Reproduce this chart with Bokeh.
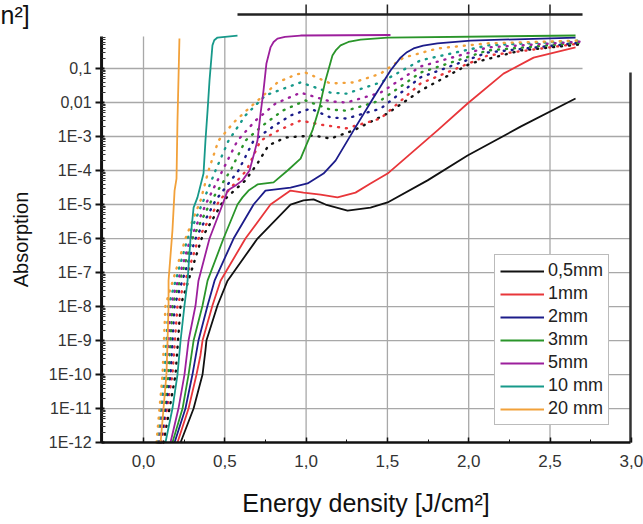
import numpy as np
from bokeh.plotting import figure
from bokeh.models import (Range1d, FixedTicker, Label, Legend, LegendItem, CustomJSTickFormatter)
from bokeh.embed import file_html
from bokeh.resources import INLINE

FONT = "Liberation Sans"

# ---------------- data ----------------
x_ticks = [0.0, 0.5, 1.0, 1.5, 2.0, 2.5, 3.0]
x_tick_labels = ["0,0", "0,5", "1,0", "1,5", "2,0", "2,5", "3,0"]
y_ticks = [1e-12, 1e-11, 1e-10, 1e-9, 1e-8, 1e-7, 1e-6, 1e-5, 1e-4, 1e-3, 1e-2, 1e-1, 1.0]
y_tick_labels = ["1E-12", "1E-11", "1E-10", "1E-9", "1E-8", "1E-7", "1E-6", "1E-5",
                 "1E-4", "1E-3", "0,01", "0,1", "1"]

series_labels = ["0,5mm", "1mm", "2mm", "3mm", "5mm", "10 mm", "20 mm"]
series_colors = ["#111111", "#e8363a", "#1c1c8a", "#2a952a", "#9c1f9c", "#17998a", "#f2a13a"]

# solid curves: energy density [J/cm2] and log10(absorption)
e_05 = [0.228, 0.308, 0.363, 0.381, 0.387, 0.455, 0.517, 0.701, 0.904, 0.984, 1.046, 1.120,
        1.255, 1.396, 1.501, 1.747, 1.993, 2.319, 2.657]
a_05 = [-12.0, -11.0, -10.0, -9.29, -9.0, -7.97, -7.24, -6.0, -5.0, -4.88, -4.85, -5.0,
        -5.18, -5.09, -4.94, -4.29, -3.56, -2.71, -1.88]

e_1 = [0.209, 0.277, 0.326, 0.350, 0.363, 0.424, 0.474, 0.627, 0.781, 0.904, 0.984, 1.089,
       1.193, 1.304, 1.396, 1.501, 1.808, 1.993, 2.214, 2.399, 2.657]
a_1 = [-12.0, -11.0, -10.0, -9.44, -9.0, -7.97, -7.24, -6.0, -5.0, -4.59, -4.65, -4.71,
       -4.79, -4.65, -4.38, -4.09, -2.82, -2.03, -1.15, -0.68, -0.38]

e_2 = [0.191, 0.258, 0.301, 0.338, 0.394, 0.437, 0.554, 0.677, 0.750, 0.904, 1.009, 1.107,
       1.181, 1.292, 1.415, 1.519, 1.581, 1.620, 1.661, 1.720, 1.808, 2.011, 2.657]
a_2 = [-12.0, -11.0, -10.0, -9.0, -7.97, -7.24, -6.0, -5.0, -4.59, -4.5, -4.38, -4.09,
       -3.71, -2.82, -1.85, -1.06, -0.68, -0.52, -0.41, -0.33, -0.26, -0.18, -0.09]

e_3 = [0.178, 0.240, 0.277, 0.308, 0.363, 0.394, 0.492, 0.578, 0.609, 0.646, 0.701, 0.800,
       0.886, 0.966, 1.039, 1.082, 1.119, 1.162, 1.185, 1.212, 1.260, 1.335, 1.501, 2.657]
a_3 = [-12.0, -11.0, -10.0, -9.0, -7.97, -7.24, -6.0, -5.0, -4.79, -4.59, -4.41, -4.35,
       -4.0, -3.65, -2.82, -2.15, -1.35, -0.62, -0.45, -0.32, -0.22, -0.15, -0.09, -0.03]

e_5 = [0.166, 0.215, 0.252, 0.277, 0.320, 0.338, 0.406, 0.486, 0.517, 0.566, 0.609, 0.652,
       0.677, 0.701, 0.720, 0.738, 0.756, 0.781, 0.800, 0.824, 0.870, 0.966, 1.519]
a_5 = [-12.0, -11.0, -10.0, -9.0, -7.97, -7.24, -6.0, -5.0, -4.59, -4.44, -4.29, -4.0,
       -3.56, -3.12, -2.32, -1.65, -0.85, -0.38, -0.22, -0.12, -0.07, -0.03, -0.015]

e_10 = [0.135, 0.178, 0.209, 0.228, 0.252, 0.271, 0.289, 0.308, 0.332, 0.369, 0.381, 0.394,
        0.406, 0.424, 0.435, 0.455, 0.578]
a_10 = [-12.0, -11.0, -10.0, -9.0, -7.97, -7.24, -6.0, -5.09, -4.79, -4.09, -3.12, -2.24,
        -1.35, -0.32, -0.17, -0.09, -0.03]

e_20 = [0.105, 0.123, 0.141, 0.148, 0.154, 0.154, 0.178, 0.191, 0.203, 0.209, 0.221]
a_20 = [-12.0, -11.0, -10.0, -9.0, -7.97, -7.24, -5.76, -4.59, -4.24, -2.53, -0.12]

# dotted curves (same colour code)
de_05 = [0.123, 0.197, 0.228, 0.357, 0.492, 0.627, 0.701, 0.769, 0.873, 1.046, 1.150, 1.292,
         1.501, 1.704, 2.011, 2.319, 2.688]
da_05 = [-12.0, -10.0, -7.97, -6.0, -4.88, -4.29, -3.79, -3.26, -3.03, -2.97, -3.06, -2.82,
         -2.32, -1.65, -0.85, -0.47, -0.29]

de_1 = [0.111, 0.178, 0.209, 0.338, 0.467, 0.633, 0.720, 0.830, 0.966, 1.089, 1.248, 1.458,
        1.704, 2.116, 2.688]
da_1 = [-12.0, -10.0, -7.97, -6.0, -4.88, -4.0, -3.12, -2.82, -2.53, -2.65, -2.76, -2.47,
        -1.44, -0.62, -0.26]

de_2 = [0.105, 0.166, 0.191, 0.320, 0.443, 0.584, 0.677, 0.781, 0.904, 1.027, 1.150, 1.248,
        1.458, 1.704, 2.116, 2.688]
da_2 = [-12.0, -10.0, -7.97, -6.0, -4.88, -4.0, -3.12, -2.76, -2.38, -2.18, -2.44, -2.47,
        -2.18, -1.26, -0.53, -0.24]

de_3 = [0.098, 0.154, 0.178, 0.301, 0.418, 0.535, 0.627, 0.732, 0.855, 0.996, 1.150, 1.248,
        1.458, 1.704, 2.116, 2.688]
da_3 = [-12.0, -10.0, -7.97, -6.0, -4.88, -4.0, -3.12, -2.68, -2.24, -1.94, -2.21, -2.24,
        -1.94, -1.12, -0.47, -0.24]

de_5 = [0.092, 0.141, 0.166, 0.289, 0.394, 0.486, 0.578, 0.689, 0.812, 0.966, 1.150, 1.248,
        1.458, 1.704, 2.116, 2.688]
da_5 = [-12.0, -10.0, -7.97, -6.0, -4.88, -4.0, -3.12, -2.53, -2.03, -1.71, -1.97, -2.0,
        -1.71, -0.94, -0.38, -0.21]

de_10 = [0.086, 0.129, 0.154, 0.271, 0.369, 0.443, 0.523, 0.627, 0.750, 0.966, 1.150, 1.248,
         1.458, 1.704, 2.116, 2.688]
da_10 = [-12.0, -10.0, -7.97, -6.0, -4.88, -4.0, -3.12, -2.38, -1.79, -1.41, -1.71, -1.74,
         -1.41, -0.76, -0.32, -0.18]

de_20 = [0.080, 0.117, 0.135, 0.258, 0.351, 0.400, 0.461, 0.554, 0.646, 0.738, 0.824, 0.935,
         0.996, 1.150, 1.292, 1.458, 1.599, 1.808, 2.116, 2.688]
da_20 = [-12.0, -10.0, -7.97, -6.0, -4.88, -4.0, -3.12, -2.59, -2.18, -1.79, -1.41, -1.18,
         -1.12, -1.44, -1.41, -1.15, -0.68, -0.41, -0.26, -0.18]

solid_e = [e_05, e_1, e_2, e_3, e_5, e_10, e_20]
solid_a = [a_05, a_1, a_2, a_3, a_5, a_10, a_20]
dot_e = [de_05, de_1, de_2, de_3, de_5, de_10, de_20]
dot_a = [da_05, da_1, da_2, da_3, da_5, da_10, da_20]

# ---------------- layout constants (plot box inside the canvas) ----------------
X_LEFT, X_RIGHT = -0.258, 2.995        # left / right frame edges
Y_BOTTOM = 1e-12
Y_TOP_LEFT = 0.87                      # visible top of the left part of the picture
Y_TOP_RIGHT = 0.0762                   # visible top of the right frame line
Y_TOPLINE = 3.87                       # detached top frame line
Y_TOPTICK = 7.6
TOPLINE_X = (0.578, 2.70)

p = figure(width=643, height=524, y_axis_type="log",
           x_range=Range1d(-0.8795, 3.075), y_range=Range1d(10 ** -14.41, 10 ** 1.0),
           output_backend="svg", toolbar_location=None,
           min_border_left=0, min_border_right=0, min_border_top=0, min_border_bottom=0)
p.outline_line_color = None
p.background_fill_color = "white"
p.border_fill_color = "white"
p.grid.visible = False

fmt_js = """
const i = tvals.findIndex(t => Math.abs(t - tick) <= 1e-6 * Math.max(Math.abs(t), 1e-30));
return i >= 0 ? tlabels[i] : "";
"""

# ---- grid lines (bounded to the plot box) ----
GRID = dict(line_color="#a8a8a8", line_width=1.3)
vx = [t for t in x_ticks if t < TOPLINE_X[0]]
vx_hi = [t for t in x_ticks if TOPLINE_X[0] <= t < X_RIGHT - 0.01]
p.segment(x0=vx, y0=[Y_BOTTOM] * len(vx), x1=vx, y1=[Y_TOP_LEFT] * len(vx), **GRID)
p.segment(x0=vx_hi, y0=[Y_BOTTOM] * len(vx_hi), x1=vx_hi, y1=[Y_TOPLINE] * len(vx_hi), **GRID)
hy = [t for t in y_ticks if Y_BOTTOM < t < Y_TOP_RIGHT]
hy_hi = [t for t in y_ticks if Y_TOP_RIGHT <= t < Y_TOP_LEFT]
p.segment(x0=[X_LEFT] * len(hy), y0=hy, x1=[X_RIGHT] * len(hy), y1=hy, **GRID)
p.segment(x0=[X_LEFT] * len(hy_hi), y0=hy_hi, x1=[TOPLINE_X[1]] * len(hy_hi), y1=hy_hi, **GRID)

# ---- bottom axis ----
xa = p.xaxis[0]
xa.fixed_location = Y_BOTTOM
xa.bounds = (X_LEFT, X_RIGHT)
xa.ticker = FixedTicker(ticks=x_ticks, minor_ticks=[0.25, 0.75, 1.25, 1.75, 2.25, 2.75])
xa.formatter = CustomJSTickFormatter(args=dict(tvals=x_ticks, tlabels=x_tick_labels), code=fmt_js)
xa.axis_label = "Energy density [J/cm²]"
xa.axis_label_text_font = FONT
xa.axis_label_text_font_style = "normal"
xa.axis_label_text_font_size = "25px"
xa.axis_label_text_color = "#111111"
xa.axis_label_standoff = 19
xa.major_label_text_font = FONT
xa.major_label_text_font_size = "17px"
xa.major_label_text_color = "#333333"
xa.major_label_standoff = 12
xa.axis_line_width = 2.5
xa.axis_line_color = "#111111"
xa.major_tick_in = 5
xa.major_tick_out = 0
xa.minor_tick_in = 3
xa.minor_tick_out = 0
xa.major_tick_line_width = 1.5
xa.major_tick_line_color = "#111111"
xa.minor_tick_line_color = "#111111"

# ---- left axis (line drawn separately so it stops at the visible top) ----
ya = p.yaxis[0]
ya.fixed_location = X_LEFT
ya.bounds = (Y_BOTTOM, Y_TOP_LEFT)
minor_y = [m * 10.0 ** k for k in range(-12, 0) for m in range(2, 10) if m * 10.0 ** k < Y_TOP_LEFT]
shown_y = [t for t in y_ticks if t <= Y_TOP_LEFT]
ya.ticker = FixedTicker(ticks=shown_y, minor_ticks=minor_y)
ya.formatter = CustomJSTickFormatter(args=dict(tvals=y_ticks, tlabels=y_tick_labels), code=fmt_js)
ya.axis_label = "Absorption"
ya.axis_label_text_font = FONT
ya.axis_label_text_font_style = "normal"
ya.axis_label_text_font_size = "20px"
ya.axis_label_text_color = "#111111"
ya.axis_label_standoff = 14
ya.major_label_text_font = FONT
ya.major_label_text_font_size = "16px"
ya.major_label_text_color = "#333333"
ya.major_label_standoff = 4
ya.axis_line_color = None
ya.major_tick_out = 6
ya.major_tick_in = 3
ya.minor_tick_in = 4
ya.minor_tick_out = 0
ya.major_tick_line_width = 2
ya.major_tick_line_color = "#111111"
ya.minor_tick_line_color = "#333333"
p.segment(x0=[X_LEFT], y0=[Y_BOTTOM], x1=[X_LEFT], y1=[Y_TOP_LEFT],
          line_color="#111111", line_width=3)

# ---- right and detached top frame lines ----
p.segment(x0=[X_RIGHT], y0=[Y_BOTTOM], x1=[X_RIGHT], y1=[Y_TOP_RIGHT],
          line_color="#333333", line_width=2.5)
p.segment(x0=[TOPLINE_X[0]], y0=[Y_TOPLINE], x1=[TOPLINE_X[1]], y1=[Y_TOPLINE],
          line_color="#222222", line_width=2.5)
tt = [t for t in x_ticks if TOPLINE_X[0] < t < TOPLINE_X[1]]
p.segment(x0=tt, y0=[Y_TOPLINE] * len(tt), x1=tt, y1=[Y_TOPTICK] * len(tt),
          line_color="#222222", line_width=1.5)

# ---- dotted curves ----
for ex, ay, c in zip(dot_e, dot_a, series_colors):
    p.line(ex, [10.0 ** v for v in ay], line_color=c, line_width=2.4, line_dash="1 7",
           line_cap="round")

# ---- solid curves ----
renderers = []
for ex, ay, c in zip(solid_e, solid_a, series_colors):
    r = p.line(ex, [10.0 ** v for v in ay], line_color=c, line_width=1.8, line_join="round")
    renderers.append(r)

# fragment of a label at the top-left corner of the picture
p.add_layout(Label(x=-0.879, y=10 ** 0.56, text="n²]", text_font=FONT, text_font_size="25px",
                   text_color="#111111", text_baseline="alphabetic"))

legend = Legend(items=[LegendItem(label=l, renderers=[r]) for l, r in zip(series_labels, renderers)],
                location=(494, 99), label_text_font=FONT, label_text_font_size="18px",
                label_text_color="#222222", glyph_width=44, glyph_height=18, label_height=18,
                spacing=2, padding=5, margin=0, label_standoff=4,
                border_line_color="#777777", border_line_width=1, background_fill_alpha=1.0)
p.add_layout(legend)

open("out.html", "w").write(file_html(p, INLINE))
